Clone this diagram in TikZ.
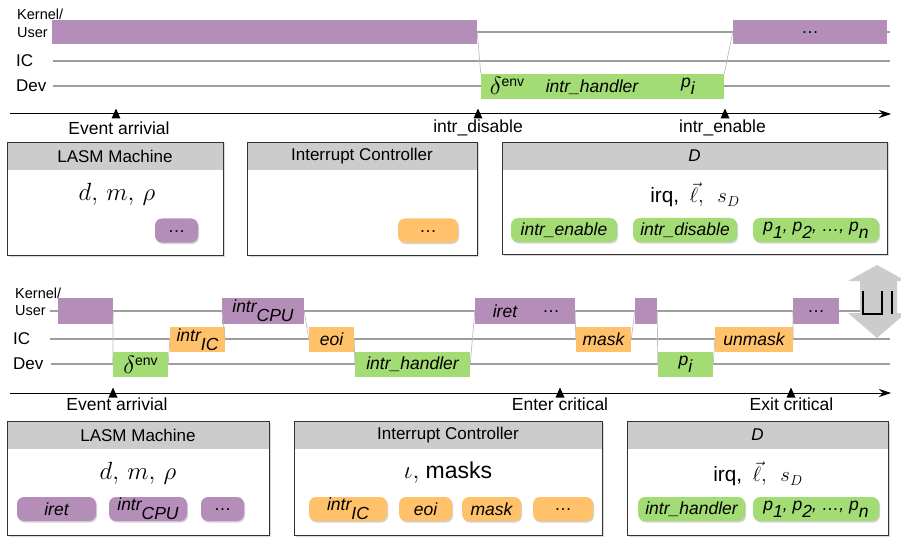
\documentclass[tikz,border=0pt]{standalone}
\usepackage{fontspec}
\setmainfont{Liberation Sans}
\usetikzlibrary{arrows.meta,shadows}

\definecolor{purp}{RGB}{180,142,184}
\definecolor{grn}{RGB}{163,219,116}
\definecolor{org}{RGB}{255,193,106}
\definecolor{hdrgray}{RGB}{204,204,204}
\definecolor{lanegray}{RGB}{158,158,158}
\definecolor{linkgray}{RGB}{190,190,190}
\definecolor{arrgray}{RGB}{204,204,204}

\newcommand\fsz[1]{\fontsize{#1}{#1}\selectfont}
\newcommand\dnsub[1]{\raisebox{-0.38em}{#1}}
\newcommand\upsup[1]{\raisebox{0.12em}{#1}}
\newcommand\denv{{\fsz{24.88}$\delta$}\raisebox{0.45em}{\fsz{14}\upshape env}}
\newcommand\lowdots{\raisebox{-3.5pt}{\upshape …}}

\begin{document}
\begin{tikzpicture}[x=1pt,y=-1pt,
  lane/.style={draw=lanegray, line width=1.4pt},
  link/.style={draw=linkgray, line width=0.7pt},
  bar/.style={draw=none, inner sep=0, minimum height=25pt, font=\fsz{17.5}\itshape},
  pbar/.style={bar, fill=purp, minimum height=26pt},
  gbar/.style={bar, fill=grn},
  obar/.style={bar, fill=org},
  bartxt/.style={inner sep=0, font=\fsz{17.5}\itshape},
  lbl/.style={anchor=west, inner sep=0, font=\fsz{17}},
  ax/.style={line width=1pt, -{Stealth[length=12pt,width=8pt]}},
  axlbl/.style={inner sep=0, font=\fsz{17.5}},
  evtick/.pic={\fill (-4.5,4.5) -- (0,-5.5) -- (4.5,4.5) -- cycle;},
  panel/.style={draw=black!80, line width=0.8pt, fill=white, inner sep=0,
    drop shadow={shadow xshift=1.5pt, shadow yshift=-1.5pt, opacity=0.3},
    path picture={\fill[hdrgray] (path picture bounding box.north west) rectangle ([yshift=-28pt]path picture bounding box.north east);}},
  ptitle/.style={inner sep=0, font=\fsz{17}},
  mathv/.style={inner sep=0, font=\fsz{24.88}},
  btn/.style={rounded corners=7pt, inner sep=0, minimum height=24pt, font=\fsz{17.5}\itshape,
    drop shadow={shadow xshift=1pt, shadow yshift=-1.5pt, opacity=0.35}},
  pbtn/.style={btn, fill=purp},
  gbtn/.style={btn, fill=grn},
  obtn/.style={btn, fill=org}
]
\useasboundingbox (0,0) rectangle (901,537);

% ================= TOP TIMELINE =================
\node[anchor=west, inner sep=0, align=left, font=\fontsize{14.5}{18}\selectfont] (kuT) at (17,23) {Kernel/\\User};
\node[lbl] (icT) at (16,61) {IC};
\node[lbl] (dvT) at (16,86) {Dev};

\coordinate (kT0) at (52,32);  \coordinate (kT1) at (890,32);
\coordinate (iT0) at (53,61);  \coordinate (iT1) at (890,61);
\coordinate (dT0) at (53,86);  \coordinate (dT1) at (890,86);
\draw[lane] (kT0) -- (kT1);
\draw[lane] (iT0) -- (iT1);
\draw[lane] (dT0) -- (dT1);

\node[pbar, minimum width=425pt, minimum height=24pt] (kt1) at (264.5,32) {};
\node[pbar, minimum width=154pt, minimum height=24pt] (kt2) at (810,32) {\lowdots};
\node[gbar, minimum width=243pt] (gt) at (602.5,86.5) {};
\node[bartxt] (gtenv) at (507,86) {\denv};
\node[bartxt] (gthand) at (592,87) {intr\_handler};
\node[bartxt] (gtpi) at (688,86) {p\dnsub{i}};

\draw[link] (kt1.east) -- (gt.north west);
\draw[link] (gt.north east) -- (kt2.west);

\coordinate (a1s) at (10,114); \coordinate (a1e) at (891,114);
\draw[ax] (a1s) -- (a1e);
\pic at (116,114) {evtick};
\pic at (478,114) {evtick};
\pic at (725,114) {evtick};
\node[axlbl] (evT) at (119,128) {Event arrivial};
\node[axlbl] (disT) at (478,128) {intr\_disable};
\node[axlbl] (enT) at (722.5,128) {intr\_enable};

% ================= TOP PANELS =================
\node[panel, minimum width=216pt, minimum height=113pt] (lasm1) at (115,198.5) {};
\node[ptitle] (lasm1t) at (115,156) {LASM Machine};
\node[mathv] (lasm1v) at (117,194) {$d,\, m,\, \rho$};
\node[pbtn, minimum width=43pt] (lasm1b) at (176.5,230.5) {\lowdots};

\node[panel, minimum width=230pt, minimum height=113pt] (ic1) at (362,198.5) {};
\node[ptitle] (ic1t) at (362,156) {Interrupt Controller};
\node[obtn, minimum width=60pt] (ic1b) at (428,230.5) {\lowdots};

\node[panel, minimum width=385pt, minimum height=112pt] (d1) at (694.5,198) {};
\node[ptitle, font=\fsz{17}\itshape] (d1t) at (694.5,156) {D};
\node[inner sep=0, font=\fsz{20.74}] (d1v) at (695,195) {irq,\enspace$\vec{\ell},\enspace s_D$};
\node[gbtn, minimum width=106pt] (d1b1) at (564,230) {intr\_enable};
\node[gbtn, minimum width=104pt] (d1b2) at (685,230) {intr\_disable};
\node[gbtn, minimum width=126pt] (d1b3) at (816,230) {p\dnsub{1}, p\dnsub{2}, …, p\dnsub{n}};

% ================= BOTTOM TIMELINE =================
\node[anchor=west, inner sep=0, align=left, font=\fontsize{14.5}{17}\selectfont] (kuB) at (15,302) {Kernel/\\User};
\node[lbl] (icB) at (13,339) {IC};
\node[lbl] (dvB) at (13,364) {Dev};

\coordinate (kB0) at (50,311);  \coordinate (kB1) at (863,311);
\coordinate (iB0) at (50,339);  \coordinate (iB1) at (890,339);
\coordinate (dB0) at (51,364);  \coordinate (dB1) at (890,364);
\draw[lane] (kB0) -- (kB1);
\draw[lane] (iB0) -- (iB1);
\draw[lane] (dB0) -- (dB1);

\node[pbar, minimum width=55pt] (kb1) at (85.5,311) {};
\node[gbar, minimum width=55pt] (denv) at (140.5,364.5) {\denv};
\node[obar, minimum width=55pt] (intic) at (197.5,339.5) {\upsup{intr}\dnsub{IC}};
\node[pbar, minimum width=82pt] (intcpu) at (263,311) {\upsup{intr}\dnsub{CPU}};
\node[obar, minimum width=45pt] (eoi) at (331.5,339.5) {eoi};
\node[gbar, minimum width=115pt] (hand) at (412.5,364.5) {intr\_handler};
\node[pbar, minimum width=100pt] (iret) at (525,311) {};
\node[bartxt] (irett) at (505,311) {iret};
\node[bartxt] (iretd) at (551,311) {\lowdots};
\node[obar, minimum width=55pt] (mask) at (603.5,339.5) {mask};
\node[pbar, minimum width=22pt] (ksm) at (646,311) {};
\node[gbar, minimum width=55pt] (pi) at (685.5,364.5) {p\dnsub{i}};
\node[obar, minimum width=78pt] (unmask) at (754,339.5) {unmask};
\node[pbar, minimum width=46pt] (klast) at (816,311) {\lowdots};

\draw[link] (kb1.east) -- (denv.west);
\draw[link] (denv.east) -- (intic.west);
\draw[link] (intic.east) -- (intcpu.west);
\draw[link] (intcpu.east) -- (eoi.west);
\draw[link] (eoi.east) -- (hand.west);
\draw[link] (hand.east) -- (iret.west);
\draw[link] (iret.east) -- (mask.west);
\draw[link] (mask.east) -- (ksm.west);
\draw[link] (ksm.east) -- (pi.west);
\draw[link] (pi.east) -- (unmask.west);
\draw[link] (unmask.east) -- (klast.west);

% big up/down arrow with join symbol
\fill[arrgray] (877,265) -- (906,281) -- (897,281) -- (897,313) -- (906,313) -- (877,338)
  -- (848,313) -- (860,313) -- (860,281) -- (848,281) -- cycle;
\draw[line width=1.6pt] (863,291) -- (863,314) -- (882,314) -- (882,291);
\draw[line width=1.6pt] (892,291) -- (892,314);

\coordinate (a2s) at (10,393); \coordinate (a2e) at (891,393);
\draw[ax] (a2s) -- (a2e);
\pic at (113,393) {evtick};
\pic at (560,393) {evtick};
\pic at (791,393) {evtick};
\node[axlbl] (evB) at (117,404) {Event arrivial};
\node[axlbl] (entB) at (560,404) {Enter critical};
\node[axlbl] (exB) at (791.5,404) {Exit critical};

% ================= BOTTOM PANELS =================
\node[panel, minimum width=262pt, minimum height=114pt] (lasm2) at (138,478) {};
\node[ptitle] (lasm2t) at (138,435) {LASM Machine};
\node[mathv] (lasm2v) at (138,473) {$d,\, m,\, \rho$};
\node[pbtn, minimum width=79pt] (lb1) at (56.5,509) {iret};
\node[pbtn, minimum width=78pt] (lb2) at (148,509) {\upsup{intr}\dnsub{CPU}};
\node[pbtn, minimum width=43pt] (lb3) at (222.5,509) {\lowdots};

\node[panel, minimum width=308pt, minimum height=114pt] (ic2) at (448,478) {};
\node[ptitle] (ic2t) at (448,435) {Interrupt Controller};
\node[inner sep=0, font=\fsz{23}] (ic2v) at (448,473) {$\iota,$ masks};
\node[obtn, minimum width=78pt] (ib1) at (348,509) {\upsup{intr}\dnsub{IC}};
\node[obtn, minimum width=53pt] (ib2) at (425.5,509) {eoi};
\node[obtn, minimum width=59pt] (ib3) at (491.5,509) {mask};
\node[obtn, minimum width=60pt] (ib4) at (563,509) {\lowdots};

\node[panel, minimum width=261pt, minimum height=114pt] (d2) at (757.5,478) {};
\node[ptitle, font=\fsz{17}\itshape] (d2t) at (757.5,435) {D};
\node[inner sep=0, font=\fsz{20.74}] (d2v) at (758,474) {irq,\enspace$\vec{\ell},\enspace s_D$};
\node[gbtn, minimum width=107pt] (db1) at (691.5,509) {intr\_handler};
\node[gbtn, minimum width=126pt] (db2) at (816,509) {p\dnsub{1}, p\dnsub{2}, …, p\dnsub{n}};
\end{tikzpicture}
\end{document}
